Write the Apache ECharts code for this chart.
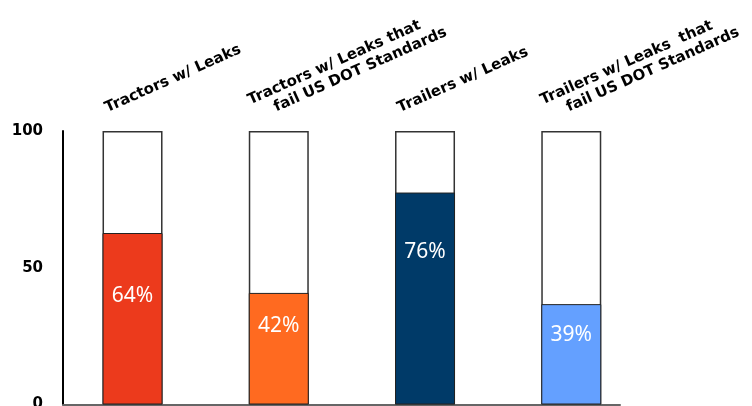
<!DOCTYPE html>
<html>
<head>
<meta charset="utf-8">
<script src="https://cdn.jsdelivr.net/npm/echarts@6/dist/echarts.min.js"></script>
<style>
html,body{margin:0;padding:0;background:#fff;}
#chart{width:752px;height:406px;}
</style>
</head>
<body>
<div id="chart"></div>
<script>
const categories = [
  'Tractors w/ Leaks',
  'Tractors w/ Leaks that\nfail US DOT Standards',
  'Trailers w/ Leaks',
  'Trailers w/ Leaks  that\nfail US DOT Standards'
];
const barValues = [62.7, 40.8, 77.5, 36.7];
const percentLabels = ['64%', '42%', '76%', '39%'];
const frameValues = [100, 100, 100, 100];
const yMin = 0, yMax = 100, yStep = 50;
const barColors = ['#EC3A1C', '#FF6A20', '#003A68', '#64A0FF'];

const labelFrac = ['37%', '30%', '28%', '31%'];

const chart = echarts.init(document.getElementById('chart'));

function catFormatter(p) {
  return p.name.split('\n').map((s, i) => (i === 0 ? '{a|' + s + '}' : '{b|' + s + '}')).join('\n');
}

const option = {
  animation: false,
  backgroundColor: '#fff',
  grid: [
    { left: 63, width: 557, top: 131, bottom: 1.5, outerBoundsMode: 'none', containLabel: false },
    { left: 59.4, width: 585, top: 131, bottom: 1.5, outerBoundsMode: 'none', containLabel: false }
  ],
  xAxis: [
    {
      gridIndex: 0, type: 'value', min: 0, max: 1,
      axisLine: { show: true, lineStyle: { color: '#666', width: 2 } },
      axisTick: { show: false }, axisLabel: { show: false }, splitLine: { show: false }
    },
    {
      gridIndex: 1, type: 'category', data: categories, show: false
    }
  ],
  yAxis: [
    {
      gridIndex: 0, type: 'value', min: yMin, max: yMax, interval: yStep,
      axisLine: { show: true, lineStyle: { color: '#000', width: 2 } },
      axisTick: { show: false }, splitLine: { show: false },
      axisLabel: { margin: 20, color: '#000', fontFamily: 'DejaVu Sans', fontWeight: 'bold', fontSize: 15 }
    },
    { gridIndex: 1, type: 'value', min: yMin, max: yMax, show: false }
  ],
  series: [
    {
      type: 'bar', xAxisIndex: 1, yAxisIndex: 1,
      data: frameValues, barWidth: 60, barGap: '-100%',
      itemStyle: { color: '#fff', borderColor: '#333', borderWidth: 1.5 },
      label: {
        show: true, position: [0, 0], rotate: 24, align: 'left', verticalAlign: 'middle',
        offset: [12, -19],
        formatter: catFormatter,
        rich: {
          a: { fontFamily: 'DejaVu Sans', fontWeight: 'bold', fontSize: 15, lineHeight: 17, color: '#000' },
          b: { fontFamily: 'DejaVu Sans', fontWeight: 'bold', fontSize: 15, lineHeight: 17, color: '#000', padding: [0, 0, 0, 21] }
        }
      },
      z: 2
    },
    {
      type: 'bar', xAxisIndex: 1, yAxisIndex: 1, barWidth: 60, barGap: '-100%',
      data: barValues.map((v, i) => ({
        value: v,
        itemStyle: { color: barColors[i] },
        label: { formatter: percentLabels[i], position: ['50%', labelFrac[i]] }
      })),
      itemStyle: { borderColor: '#222', borderWidth: 1 },
      label: {
        show: true, align: 'center', verticalAlign: 'middle',
        color: '#fff', fontFamily: 'Noto Sans', fontSize: 21
      },
      z: 3
    }
  ]
};
chart.setOption(option);
</script>
</body>
</html>
